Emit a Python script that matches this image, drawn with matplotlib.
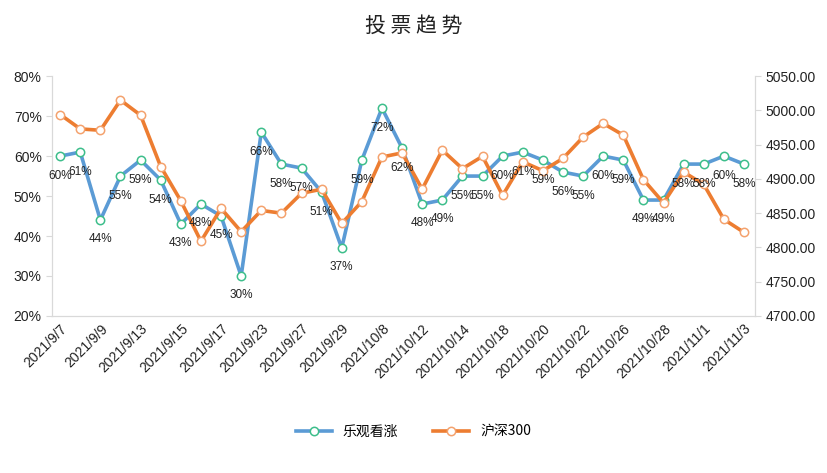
import matplotlib.pyplot as plt
from matplotlib.ticker import FuncFormatter

plt.rcParams['font.family'] = ['Noto Sans CJK SC', 'DejaVu Sans']

# trading days shown on the x axis (every second one is labelled)
dates = ['2021/9/7', '2021/9/8', '2021/9/9', '2021/9/10', '2021/9/13', '2021/9/14',
         '2021/9/15', '2021/9/16', '2021/9/17', '2021/9/22', '2021/9/23', '2021/9/24',
         '2021/9/27', '2021/9/28', '2021/9/29', '2021/9/30', '2021/10/8', '2021/10/11',
         '2021/10/12', '2021/10/13', '2021/10/14', '2021/10/15', '2021/10/18', '2021/10/19',
         '2021/10/20', '2021/10/21', '2021/10/22', '2021/10/25', '2021/10/26', '2021/10/27',
         '2021/10/28', '2021/10/29', '2021/11/1', '2021/11/2', '2021/11/3']

# share of bullish votes, percent
bullish = [60, 61, 44, 55, 59, 54, 43, 48, 45, 30, 66, 58, 57, 51, 37, 59, 72, 62,
           48, 49, 55, 55, 60, 61, 59, 56, 55, 60, 59, 49, 49, 58, 58, 60, 58]

# CSI 300 close
csi300 = [4994, 4973, 4971, 5015, 4993, 4918, 4868, 4809, 4857, 4823, 4854, 4850,
          4879, 4885, 4835, 4867, 4932, 4938, 4885, 4942, 4915, 4933, 4876, 4925,
          4912, 4930, 4961, 4981, 4964, 4899, 4865, 4910, 4892, 4841, 4822]

x = list(range(len(dates)))
num_font = ['Liberation Sans', 'DejaVu Sans']

fig = plt.figure(figsize=(8.27, 4.73), dpi=100)
ax = fig.add_axes([0.063, 0.332, 0.850, 0.507])
ax2 = ax.twinx()

blue = '#5B9BD5'
orange = '#ED7D31'

l1, = ax.plot(x, bullish, color=blue, lw=2.6, marker='o', ms=6,
              mfc='white', mec='#3DBE8B', mew=1.1, label='乐观看涨')
l2, = ax2.plot(x, csi300, color=orange, lw=2.6, marker='o', ms=6,
               mfc='white', mec='#F4A26E', mew=1.1, label='沪深300')

# data labels under the blue points, kept on top of both lines
for xi, v in zip(x, bullish):
    ax2.annotate(f'{v}%', xy=(xi, v), xycoords=ax.transData,
                 xytext=(0, -14), textcoords='offset points',
                 ha='center', va='center', fontsize=8.5, color='#222222',
                 family=num_font, zorder=5)

ax.set_ylim(20, 80)
ax.set_yticks(range(20, 81, 10))
ax.yaxis.set_major_formatter(FuncFormatter(lambda v, p: f'{v:.0f}%'))
ax2.set_ylim(4700, 5050)
ax2.set_yticks(range(4700, 5051, 50))
ax2.yaxis.set_major_formatter(FuncFormatter(lambda v, p: f'{v:.2f}'))

ax.set_xlim(-0.4, 34.55)
ax.set_xticks(x[::2])
ax.set_xticklabels(dates[::2], rotation=45, ha='right', rotation_mode='anchor',
                   fontsize=10, family=num_font)

grey = '#D9D9D9'
for a in (ax, ax2):
    a.spines['top'].set_visible(False)
    for s in ('left', 'right', 'bottom'):
        a.spines[s].set_color(grey)
    a.tick_params(axis='y', colors=grey, labelcolor='#222222', labelsize=10, length=4)
    for t in a.get_yticklabels():
        t.set_family(num_font)
ax.tick_params(axis='x', length=0, pad=4, labelcolor='#222222')

fig.suptitle('投 票 趋 势', y=0.968, fontsize=15, color='#222222')

fig.legend(handles=[l1, l2], loc='center', bbox_to_anchor=(0.5, 0.087), ncol=2,
           frameon=False, fontsize=10, handlelength=2.6, columnspacing=2.5)

fig.savefig('out.png', dpi=100)
